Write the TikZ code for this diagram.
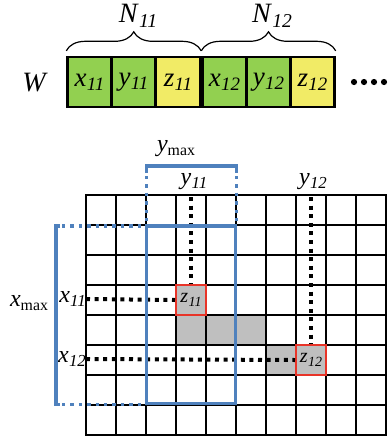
\documentclass[tikz,border=0pt]{standalone}
\usepackage{fontspec}
\setmainfont{Liberation Serif}
\usepackage{graphicx}
\usetikzlibrary{decorations.pathreplacing}
\definecolor{cgreen}{RGB}{146,208,80}
\definecolor{cyellow}{RGB}{241,235,102}
\definecolor{cblue}{RGB}{79,129,189}
\definecolor{cgray}{RGB}{191,191,191}
\definecolor{cred}{RGB}{232,52,40}
\newcommand{\lbl}[2]{\textit{#1}\kern0.3pt\raisebox{-0.35ex}{\scalebox{0.7}{\textit{#2}}}}
\newcommand{\mxl}[1]{\textit{#1}\raisebox{-0.3ex}{\scalebox{0.66}{max}}}
\tikzset{
  cellbox/.style={draw=black, line width=2.4pt, minimum width=44pt, minimum height=50pt, inner sep=0pt, font=\fontsize{27}{27}\selectfont},
  gbox/.style={cellbox, fill=cgreen},
  ybox/.style={cellbox, fill=cyellow},
  bigtxt/.style={inner sep=0pt, font=\fontsize{28}{28}\selectfont},
  midtxt/.style={inner sep=0pt, font=\fontsize{24}{24}\selectfont},
  gridline/.style={line width=2pt, black},
  bluesolid/.style={line width=3.8pt, cblue},
  bluedot/.style={line width=3.6pt, cblue, dash pattern=on 3.4pt off 5pt},
  blackdot/.style={line width=4pt, black, dash pattern=on 4pt off 4.6pt},
  redbox/.style={draw=cred, line width=2pt, fill=cgray, minimum size=30pt, inner sep=0pt, font=\fontsize{20}{20}\selectfont},
  bracestyle/.style={decorate, decoration={brace, amplitude=19pt, aspect=0.5}, line width=1.2pt},
}
\begin{document}
\begin{tikzpicture}[x=1pt,y=-1pt]
\useasboundingbox (0,0) rectangle (389,437);
% top row
\node[bigtxt] (W) at (35,83) {\textit{W}};
\node[gbox] (b1) at (89.5,82) {\lbl{x}{11}};
\node[gbox] (b2) at (133.5,82) {\lbl{y}{11}};
\node[ybox] (b3) at (178,82) {\lbl{z}{11}};
\node[gbox] (b4) at (224.5,82) {\lbl{x}{12}};
\node[gbox] (b5) at (268.5,82) {\lbl{y}{12}};
\node[ybox] (b6) at (312.5,82) {\lbl{z}{12}};
\draw[bracestyle] ([yshift=5pt]b1.north west) -- ([yshift=5pt]b3.north east);
\draw[bracestyle] ([yshift=5pt]b4.north west) -- ([yshift=5pt]b6.north east);
\node[bigtxt] (N1) at (138,16) {\lbl{N}{11}};
\node[bigtxt] (N2) at (272,16) {\lbl{N}{12}};
\foreach \i/\xx in {1/354,2/364,3/374,4/384}{
  \fill (\xx,82) circle (3.1pt);
}
% gray cells
\fill[cgray] (176,315) rectangle (266,345);
\fill[cgray] (266,345) rectangle (296,375);
% grid
\foreach \i in {0,...,10}{
  \draw[gridline] (86+30*\i,194) -- (86+30*\i,435);
}
\foreach \j in {0,...,8}{
  \draw[gridline] (85,195+30*\j) -- (387,195+30*\j);
}
% marked cells
\node[redbox] (z1) at (191,300) {\lbl{z}{11}};
\node[redbox] (z2) at (311,360) {\lbl{z}{12}};
% labels
\node[midtxt] (y1) at (194,182) {\lbl{y}{11}};
\node[midtxt] (y2) at (313,182) {\lbl{y}{12}};
\node[midtxt, anchor=east] (x1) at (86,299) {\lbl{x}{11}};
\node[midtxt, anchor=east] (x2) at (86,359) {\lbl{x}{12}};
\node[midtxt] (ym) at (176,149) {\mxl{y}};
\node[midtxt] (xm) at (29,303) {\mxl{x}};
% black dotted connectors
\draw[blackdot] (191,197) -- (z1.north);
\draw[blackdot] (311,197) -- (z2.north);
\draw[blackdot] (x1.east) -- (z1.west);
\draw[blackdot] (x2.east) -- (z2.west);
% blue window
\draw[bluesolid] (146.5,226) rectangle (235.5,403.5);
\draw[bluesolid] (146.5,173) -- (146.5,166) -- (236.5,166) -- (236.5,173);
\draw[bluedot] (146.5,176) -- (146.5,224);
\draw[bluedot] (236.5,176) -- (236.5,224);
\draw[bluesolid] (60,226) -- (56,226) -- (56,404.5) -- (60,404.5);
\draw[bluedot] (62,226) -- (146,226);
\draw[bluedot] (62,404.5) -- (146,404.5);
\end{tikzpicture}
\end{document}
